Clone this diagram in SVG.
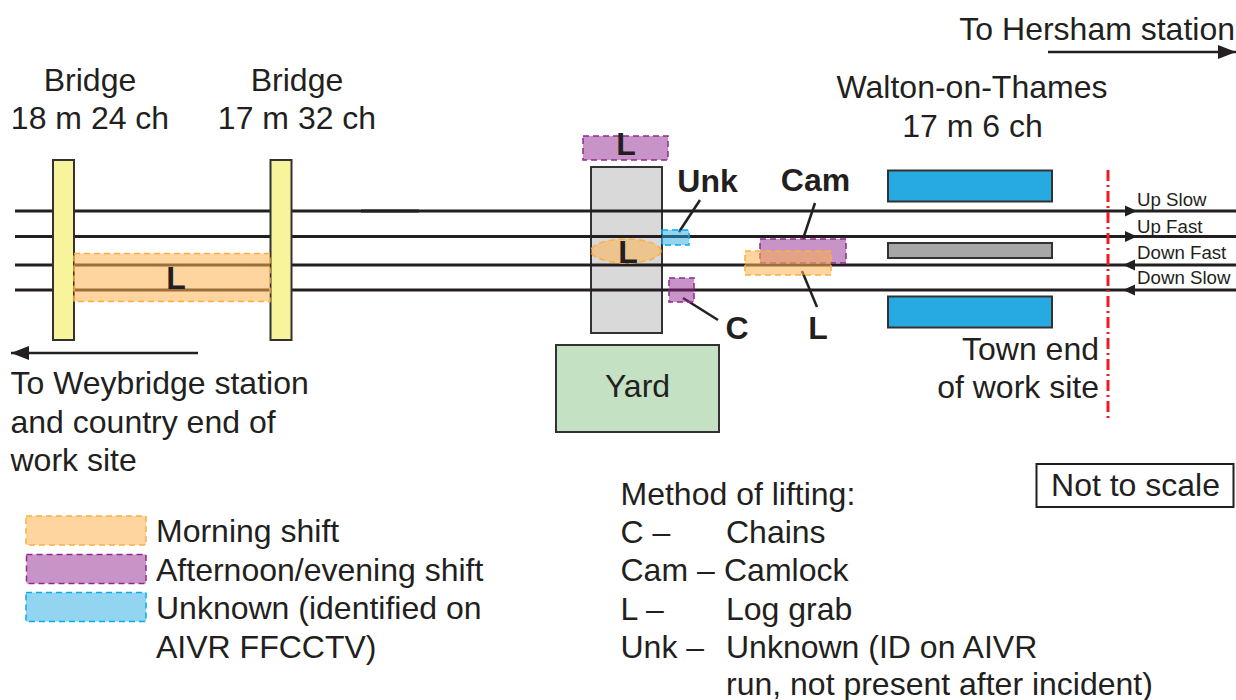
<svg xmlns="http://www.w3.org/2000/svg" width="1236" height="700" viewBox="0 0 1236 700">
<style>
text{font-family:"Liberation Sans",Arial,sans-serif;fill:#231f20;font-size:32px}
.b{font-weight:bold;font-size:32px}
.s{font-size:18.700px}
.e{text-anchor:end}
.m{text-anchor:middle}
.box{stroke:#333132;stroke-width:2}
.track{stroke:#231f20;stroke-width:3;fill:none}
.lead{stroke:#231f20;stroke-width:2.500;fill:none}
.am{fill:#fdb150;fill-opacity:.55;stroke:#fbb040;stroke-width:1.500;stroke-dasharray:6 4}
.pm{fill:#92278f;fill-opacity:.5;stroke:#92278f;stroke-width:1.500;stroke-dasharray:6 4}
.un{fill:#27aae1;fill-opacity:.5;stroke:#00aeef;stroke-width:1.500;stroke-dasharray:6 4}
</style>
<defs>
<marker id="arr" markerUnits="userSpaceOnUse" markerWidth="18" markerHeight="14" refX="18" refY="7" orient="auto"><path d="M0 0L18 7L0 14Z" fill="#231f20"/></marker>
</defs>
<g id="zone"><rect class="box" x="591" y="167" width="71" height="166" fill="#d9d9d9"/></g>
<g id="connectors">
<path class="track" d="M15 211H1236"/>
<path class="track" d="M15 236.500H1236"/>
<path class="track" d="M15 265H1236"/>
<path class="track" d="M15 290H1236"/>
<path class="track" d="M361 211H419"/>
<path fill="#231f20" d="M1125 205.500L1137 211L1125 216.500Z"/>
<path fill="#231f20" d="M1125 231L1137 236.500L1125 242Z"/>
<path fill="#231f20" d="M1135 259.500L1123 265L1135 270.500Z"/>
<path fill="#231f20" d="M1135 284.500L1123 290L1135 295.500Z"/>
<path class="lead" d="M700 200L679 232"/>
<path class="lead" d="M815 203L803 239"/>
<path class="lead" d="M802 271L817 307"/>
<path class="lead" d="M683 298L718 320"/>
<path class="lead" d="M1048 52H1236" marker-end="url(#arr)"/>
<path class="lead" d="M198 353H11" marker-end="url(#arr)"/>
<path d="M1108 170V420" stroke="#ed1c24" stroke-width="3" stroke-dasharray="11 4 2 4" fill="none"/>
</g>
<g id="bridge-18m"><rect class="box" x="53" y="160" width="21" height="180" fill="#f7f49b"/><text class="m" x="90" y="90.500">Bridge</text><text class="m" x="90" y="129">18 m 24 ch</text></g>
<g id="bridge-17m"><rect class="box" x="270.500" y="160" width="21" height="180" fill="#f7f49b"/><text class="m" x="297" y="90.500">Bridge</text><text class="m" x="297" y="129">17 m 32 ch</text></g>
<g id="platform-up"><rect class="box" x="888" y="170.500" width="164" height="31" fill="#27aae1"/></g>
<g id="platform-mid"><rect class="box" x="888" y="243" width="164" height="15" fill="#a7a7a7"/></g>
<g id="platform-down"><rect class="box" x="888" y="296.500" width="164" height="31" fill="#27aae1"/></g>
<g id="yard"><rect class="box" x="556" y="345" width="163" height="87" fill="#c4e2c3"/><text class="m" x="637.500" y="397">Yard</text></g>
<g id="lift-l-bridge"><rect class="am" x="74" y="253.500" width="196" height="48"/><text class="b m" x="176" y="289">L</text></g>
<g id="lift-l-top"><rect class="pm" x="583" y="136" width="85" height="24"/><text class="b m" x="626" y="155">L</text></g>
<g id="lift-l-ellipse"><ellipse class="am" cx="626" cy="251" rx="35" ry="12"/><text class="b m" x="628" y="263">L</text></g>
<g id="lift-unk"><rect class="un" x="662" y="230" width="27" height="15"/><text class="b m" x="707.500" y="192">Unk</text></g>
<g id="lift-c"><rect class="pm" x="669" y="278" width="25" height="24"/><text class="b m" x="737" y="339">C</text></g>
<g id="lift-cam"><rect class="pm" x="760" y="239" width="86" height="24"/><text class="b m" x="815.500" y="191">Cam</text></g>
<g id="lift-l"><rect class="am" x="745" y="251" width="86" height="24"/><text class="b m" x="818" y="339">L</text></g>
<g id="labels">
<text class="e" x="1235" y="40">To Hersham station</text>
<text class="m" x="972" y="98">Walton-on-Thames</text>
<text class="m" x="972.500" y="137">17 m 6 ch</text>
<text class="s" x="1137" y="205.500">Up Slow</text>
<text class="s" x="1137" y="232.500">Up Fast</text>
<text class="s" x="1137" y="259">Down Fast</text>
<text class="s" x="1137" y="284">Down Slow</text>
<text class="e" x="1099" y="360">Town end</text>
<text class="e" x="1099" y="397.500">of work site</text>
<text x="10.500" y="394">To Weybridge station</text>
<text x="10.500" y="432.500">and country end of</text>
<text x="10.500" y="470.500">work site</text>
</g>
<g id="not-to-scale"><rect x="1036.500" y="464" width="197" height="43" fill="#fff" stroke="#231f20" stroke-width="2"/><text class="m" x="1135.500" y="495.500">Not to scale</text></g>
<g id="legend">
<rect class="am" x="26" y="516" width="120" height="29"/><text x="156" y="542">Morning shift</text>
<rect class="pm" x="26.500" y="554.500" width="119.500" height="29"/><text x="156" y="581">Afternoon/evening shift</text>
<rect class="un" x="26" y="592.500" width="120" height="29"/><text x="156" y="618.500">Unknown (identified on</text>
<text x="156" y="657.500">AIVR FFCCTV)</text>
</g>
<g id="method">
<text x="620.500" y="504.500">Method of lifting:</text>
<text x="620.500" y="542.500">C –</text><text x="726" y="542.500">Chains</text>
<text x="620.500" y="581">Cam –</text><text x="724" y="581">Camlock</text>
<text x="620.500" y="619.500">L –</text><text x="726" y="619.500">Log grab</text>
<text x="620.500" y="657.500">Unk –</text><text x="726" y="657.500">Unknown (ID on AIVR</text>
<text x="726" y="695">run, not present after incident)</text>
</g>
</svg>
